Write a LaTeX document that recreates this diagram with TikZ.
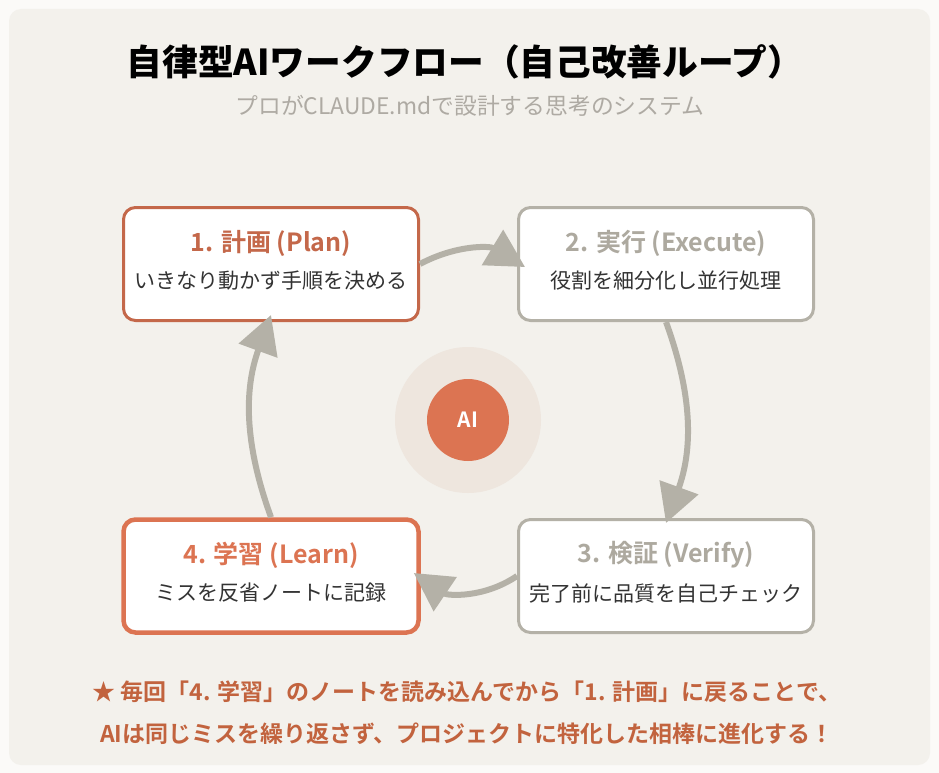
\documentclass[tikz,border=0pt]{standalone}
\usepackage{fontspec}
\setmainfont{Noto Sans CJK JP}[BoldFont={Noto Sans CJK JP Bold}]
\newfontfamily\titlefont{Noto Sans CJK JP Black}
\usetikzlibrary{arrows.meta,calc}
\definecolor{bgout}{HTML}{FBFAF8}
\definecolor{panel}{HTML}{F3F1EC}
\definecolor{orangeA}{HTML}{C4684A}
\definecolor{orangeB}{HTML}{DC7452}
\definecolor{grayA}{HTML}{B4B1A7}
\definecolor{grayT}{HTML}{ADA99F}
\definecolor{halo}{HTML}{EEE6DE}
\definecolor{bottomtxt}{HTML}{C2633E}
\definecolor{subtxt}{HTML}{333333}
\definecolor{subttl}{HTML}{AEAAA3}
\tikzset{
  stepbox/.style={rectangle, rounded corners=12pt, fill=white, line width=3pt,
    minimum width=295pt, minimum height=113pt, inner sep=0pt},
  boxtitle/.style={font=\bfseries\fontsize{25pt}{30pt}\selectfont, inner sep=0pt},
  boxsub/.style={font=\fontsize{21pt}{25pt}\selectfont, text=subtxt, inner sep=0pt},
  flow/.style={draw=grayA, line width=6pt, -{Triangle[length=38pt,width=40pt]}},
  note/.style={font=\bfseries\fontsize{23pt}{27pt}\selectfont, text=bottomtxt, inner sep=0pt}
}
\begin{document}
\begin{tikzpicture}[x=1pt,y=1pt]
\useasboundingbox (0,0) rectangle (939,-773);
\fill[bgout] (0,0) rectangle (939,-773);
\fill[panel, rounded corners=12pt] (9,-9) rectangle (930,-765);

\node[font=\titlefont\fontsize{35.7pt}{41pt}\selectfont, inner sep=0pt] (title) at (465,-62) {自律型AIワークフロー（自己改善ループ）};
\node[font=\fontsize{22.8pt}{27pt}\selectfont, text=subttl, inner sep=0pt] (subtitle) at (470,-106) {プロがCLAUDE.mdで設計する思考のシステム};

% center
\node[circle, fill=halo, minimum size=146pt, inner sep=0pt] (halo) at (468,-420) {};
\node[circle, fill=orangeB, minimum size=82pt, inner sep=0pt, text=white, font=\bfseries\fontsize{21pt}{25pt}\selectfont] (ai) at (468,-420) {AI};

% boxes
\node[stepbox, draw=orangeA] (b1) at (271,-264) {};
\node[stepbox, draw=grayA] (b2) at (666,-264) {};
\node[stepbox, draw=grayA] (b3) at (666,-576) {};
\node[stepbox, draw=orangeB, line width=4.5pt] (b4) at (271,-576) {};

\node[boxtitle, text=orangeA] (b1t) at ($(b1.center)+(0,21)$) {1. 計画 (Plan)};
\node[boxsub] (b1s) at ($(b1.center)+(0,-17)$) {いきなり動かず手順を決める};
\node[boxtitle, text=grayT] (b2t) at ($(b2.center)+(0,21)$) {2. 実行 (Execute)};
\node[boxsub] (b2s) at ($(b2.center)+(0,-17)$) {役割を細分化し並行処理};
\node[boxtitle, text=grayT] (b3t) at ($(b3.center)+(0,21)$) {3. 検証 (Verify)};
\node[boxsub] (b3s) at ($(b3.center)+(0,-17)$) {完了前に品質を自己チェック};
\node[boxtitle, text=orangeB] (b4t) at ($(b4.center)+(0,21)$) {4. 学習 (Learn)};
\node[boxsub] (b4s) at ($(b4.center)+(0,-17)$) {ミスを反省ノートに記録};

% arrows
\draw[flow] (b1.east) to[out=28, in=149] ([shift={(8pt,-3pt)}]b2.west);
\draw[flow] (b2.south) to[out=-70, in=70] ([yshift=-5pt]b3.north);
\draw[flow] (b3.west) to[out=-146, in=-34] ([shift={(-7pt,3pt)}]b4.east);
\draw[flow] (b4.north) to[out=110, in=-110] ([yshift=7pt]b1.south);

% bottom note
\node[note] (n1) at (467,-692) {★ 毎回「4. 学習」のノートを読み込んでから「1. 計画」に戻ることで、};
\node[note] (n2) at (467,-734) {AIは同じミスを繰り返さず、プロジェクトに特化した相棒に進化する！};
\end{tikzpicture}
\end{document}
